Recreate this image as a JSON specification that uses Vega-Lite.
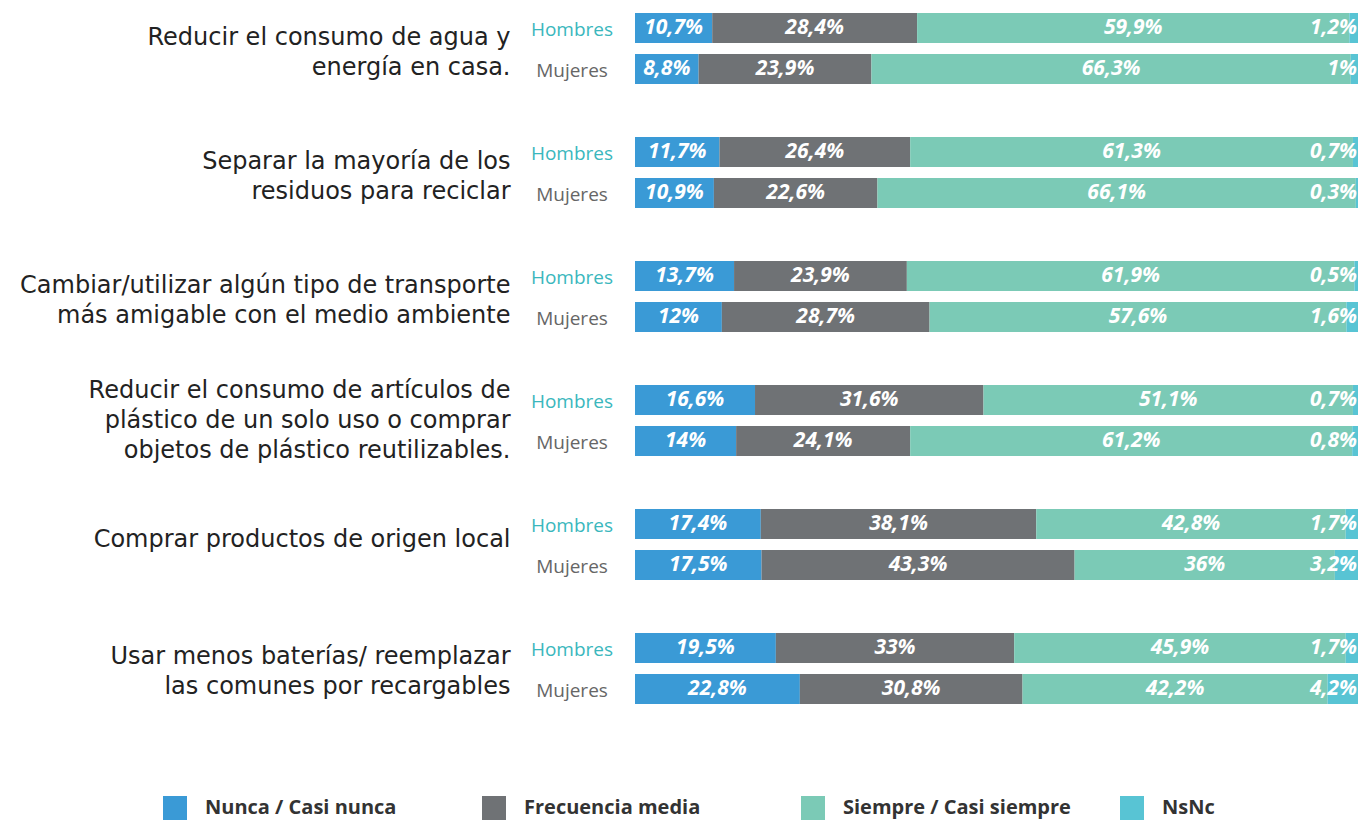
{
  "$schema": "https://vega.github.io/schema/vega-lite/v6.json",
  "autosize": "none",
  "padding": {"left": 635, "top": 13, "right": 2, "bottom": 120},
  "width": 723,
  "height": 691,
  "background": "white",
  "config": {
    "view": {"stroke": null},
    "locale": {"number": {"decimal": ",", "thousands": ".", "grouping": [3], "currency": ["", "%"]}}
  },
  "data": {"values": [
    {"cat": "Reducir el consumo de agua y\nenergía en casa.", "gender": "Hombres", "resp": "Nunca / Casi nunca", "value": 10.7},
    {"cat": "Reducir el consumo de agua y\nenergía en casa.", "gender": "Hombres", "resp": "Frecuencia media", "value": 28.4},
    {"cat": "Reducir el consumo de agua y\nenergía en casa.", "gender": "Hombres", "resp": "Siempre / Casi siempre", "value": 59.9},
    {"cat": "Reducir el consumo de agua y\nenergía en casa.", "gender": "Hombres", "resp": "NsNc", "value": 1.2},
    {"cat": "Reducir el consumo de agua y\nenergía en casa.", "gender": "Mujeres", "resp": "Nunca / Casi nunca", "value": 8.8},
    {"cat": "Reducir el consumo de agua y\nenergía en casa.", "gender": "Mujeres", "resp": "Frecuencia media", "value": 23.9},
    {"cat": "Reducir el consumo de agua y\nenergía en casa.", "gender": "Mujeres", "resp": "Siempre / Casi siempre", "value": 66.3},
    {"cat": "Reducir el consumo de agua y\nenergía en casa.", "gender": "Mujeres", "resp": "NsNc", "value": 1},
    {"cat": "Separar la mayoría de los\nresiduos para reciclar ", "gender": "Hombres", "resp": "Nunca / Casi nunca", "value": 11.7},
    {"cat": "Separar la mayoría de los\nresiduos para reciclar ", "gender": "Hombres", "resp": "Frecuencia media", "value": 26.4},
    {"cat": "Separar la mayoría de los\nresiduos para reciclar ", "gender": "Hombres", "resp": "Siempre / Casi siempre", "value": 61.3},
    {"cat": "Separar la mayoría de los\nresiduos para reciclar ", "gender": "Hombres", "resp": "NsNc", "value": 0.7},
    {"cat": "Separar la mayoría de los\nresiduos para reciclar ", "gender": "Mujeres", "resp": "Nunca / Casi nunca", "value": 10.9},
    {"cat": "Separar la mayoría de los\nresiduos para reciclar ", "gender": "Mujeres", "resp": "Frecuencia media", "value": 22.6},
    {"cat": "Separar la mayoría de los\nresiduos para reciclar ", "gender": "Mujeres", "resp": "Siempre / Casi siempre", "value": 66.1},
    {"cat": "Separar la mayoría de los\nresiduos para reciclar ", "gender": "Mujeres", "resp": "NsNc", "value": 0.3},
    {"cat": "Cambiar/utilizar algún tipo de transporte\nmás amigable con el medio ambiente", "gender": "Hombres", "resp": "Nunca / Casi nunca", "value": 13.7},
    {"cat": "Cambiar/utilizar algún tipo de transporte\nmás amigable con el medio ambiente", "gender": "Hombres", "resp": "Frecuencia media", "value": 23.9},
    {"cat": "Cambiar/utilizar algún tipo de transporte\nmás amigable con el medio ambiente", "gender": "Hombres", "resp": "Siempre / Casi siempre", "value": 61.9},
    {"cat": "Cambiar/utilizar algún tipo de transporte\nmás amigable con el medio ambiente", "gender": "Hombres", "resp": "NsNc", "value": 0.5},
    {"cat": "Cambiar/utilizar algún tipo de transporte\nmás amigable con el medio ambiente", "gender": "Mujeres", "resp": "Nunca / Casi nunca", "value": 12},
    {"cat": "Cambiar/utilizar algún tipo de transporte\nmás amigable con el medio ambiente", "gender": "Mujeres", "resp": "Frecuencia media", "value": 28.7},
    {"cat": "Cambiar/utilizar algún tipo de transporte\nmás amigable con el medio ambiente", "gender": "Mujeres", "resp": "Siempre / Casi siempre", "value": 57.6},
    {"cat": "Cambiar/utilizar algún tipo de transporte\nmás amigable con el medio ambiente", "gender": "Mujeres", "resp": "NsNc", "value": 1.6},
    {"cat": "Reducir el consumo de artículos de\nplástico de un solo uso o comprar\nobjetos de plástico reutilizables.", "gender": "Hombres", "resp": "Nunca / Casi nunca", "value": 16.6},
    {"cat": "Reducir el consumo de artículos de\nplástico de un solo uso o comprar\nobjetos de plástico reutilizables.", "gender": "Hombres", "resp": "Frecuencia media", "value": 31.6},
    {"cat": "Reducir el consumo de artículos de\nplástico de un solo uso o comprar\nobjetos de plástico reutilizables.", "gender": "Hombres", "resp": "Siempre / Casi siempre", "value": 51.1},
    {"cat": "Reducir el consumo de artículos de\nplástico de un solo uso o comprar\nobjetos de plástico reutilizables.", "gender": "Hombres", "resp": "NsNc", "value": 0.7},
    {"cat": "Reducir el consumo de artículos de\nplástico de un solo uso o comprar\nobjetos de plástico reutilizables.", "gender": "Mujeres", "resp": "Nunca / Casi nunca", "value": 14},
    {"cat": "Reducir el consumo de artículos de\nplástico de un solo uso o comprar\nobjetos de plástico reutilizables.", "gender": "Mujeres", "resp": "Frecuencia media", "value": 24.1},
    {"cat": "Reducir el consumo de artículos de\nplástico de un solo uso o comprar\nobjetos de plástico reutilizables.", "gender": "Mujeres", "resp": "Siempre / Casi siempre", "value": 61.2},
    {"cat": "Reducir el consumo de artículos de\nplástico de un solo uso o comprar\nobjetos de plástico reutilizables.", "gender": "Mujeres", "resp": "NsNc", "value": 0.8},
    {"cat": "Comprar productos de origen local", "gender": "Hombres", "resp": "Nunca / Casi nunca", "value": 17.4},
    {"cat": "Comprar productos de origen local", "gender": "Hombres", "resp": "Frecuencia media", "value": 38.1},
    {"cat": "Comprar productos de origen local", "gender": "Hombres", "resp": "Siempre / Casi siempre", "value": 42.8},
    {"cat": "Comprar productos de origen local", "gender": "Hombres", "resp": "NsNc", "value": 1.7},
    {"cat": "Comprar productos de origen local", "gender": "Mujeres", "resp": "Nunca / Casi nunca", "value": 17.5},
    {"cat": "Comprar productos de origen local", "gender": "Mujeres", "resp": "Frecuencia media", "value": 43.3},
    {"cat": "Comprar productos de origen local", "gender": "Mujeres", "resp": "Siempre / Casi siempre", "value": 36},
    {"cat": "Comprar productos de origen local", "gender": "Mujeres", "resp": "NsNc", "value": 3.2},
    {"cat": "Usar menos baterías/ reemplazar\nlas comunes por recargables", "gender": "Hombres", "resp": "Nunca / Casi nunca", "value": 19.5},
    {"cat": "Usar menos baterías/ reemplazar\nlas comunes por recargables", "gender": "Hombres", "resp": "Frecuencia media", "value": 33},
    {"cat": "Usar menos baterías/ reemplazar\nlas comunes por recargables", "gender": "Hombres", "resp": "Siempre / Casi siempre", "value": 45.9},
    {"cat": "Usar menos baterías/ reemplazar\nlas comunes por recargables", "gender": "Hombres", "resp": "NsNc", "value": 1.7},
    {"cat": "Usar menos baterías/ reemplazar\nlas comunes por recargables", "gender": "Mujeres", "resp": "Nunca / Casi nunca", "value": 22.8},
    {"cat": "Usar menos baterías/ reemplazar\nlas comunes por recargables", "gender": "Mujeres", "resp": "Frecuencia media", "value": 30.8},
    {"cat": "Usar menos baterías/ reemplazar\nlas comunes por recargables", "gender": "Mujeres", "resp": "Siempre / Casi siempre", "value": 42.2},
    {"cat": "Usar menos baterías/ reemplazar\nlas comunes por recargables", "gender": "Mujeres", "resp": "NsNc", "value": 4.2}
  ]},
  "transform": [
    {"calculate": "indexof(['Nunca / Casi nunca','Frecuencia media','Siempre / Casi siempre','NsNc'], datum.resp)", "as": "ord"}
  ],
  "encoding": {
    "y": {
      "field": "cat", "type": "nominal", "sort": null,
      "scale": {"paddingInner": 0.4274, "paddingOuter": 0},
      "axis": {
        "title": null, "domain": false, "ticks": false, "labelPadding": 125,
        "labelFontSize": 24, "labelFont": "DejaVu Sans", "labelColor": "#222222",
        "labelLineHeight": 30, "labelLimit": 0,
        "labelOffset": {
          "condition": [
            {"test": "length(split(datum.label, '\\n')) == 3", "value": -29},
            {"test": "length(split(datum.label, '\\n')) == 2", "value": -11}
          ],
          "value": -4
        },
        "labelExpr": "split(datum.label, '\\n')"
      }
    },
    "yOffset": {
      "field": "gender", "type": "nominal", "sort": ["Hombres", "Mujeres"],
      "scale": {"paddingInner": 0.268, "paddingOuter": 0}
    }
  },
  "layer": [
    {
      "mark": {"type": "bar", "strokeWidth": 0},
      "encoding": {
        "x": {"field": "value", "type": "quantitative", "stack": "normalize", "axis": null, "scale": {"domain": [0, 1], "nice": false}},
        "color": {
          "field": "resp", "type": "nominal",
          "scale": {"domain": ["Nunca / Casi nunca", "Frecuencia media", "Siempre / Casi siempre", "NsNc"], "range": ["#3a9ad6", "#6f7275", "#7bcab6", "#58c4d4"]},
          "legend": {
            "title": null, "orient": "none", "legendX": -472, "legendY": 783,
            "direction": "horizontal", "columns": 4, "gridAlign": "all", "columnPadding": 49,
            "symbolType": "square", "symbolSize": 576, "symbolStrokeWidth": 0, "symbolOpacity": 1,
            "labelFont": "Open Sans", "labelFontSize": 20, "labelFontWeight": "bold", "labelColor": "#333333",
            "labelOffset": 18, "labelLimit": 0, "padding": 0
          }
        },
        "order": {"field": "ord", "type": "quantitative"}
      }
    },
    {
      "mark": {"type": "text", "color": "white", "font": "Open Sans", "fontSize": 21, "fontWeight": "bold", "fontStyle": "italic", "baseline": "middle", "align": "center"},
      "encoding": {
        "x": {"field": "value", "type": "quantitative", "stack": "normalize", "bandPosition": 0.5},
        "detail": {"field": "resp"},
        "order": {"field": "ord", "type": "quantitative"},
        "text": {"condition": {"test": "datum.resp === 'NsNc'", "value": ""}, "field": "value", "type": "quantitative", "format": "$.1~f"}
      }
    },
    {
      "transform": [{"filter": "datum.resp === 'NsNc'"}],
      "mark": {"type": "text", "color": "white", "font": "Open Sans", "fontSize": 21, "fontWeight": "bold", "fontStyle": "italic", "baseline": "middle", "align": "right", "dx": -1},
      "encoding": {
        "x": {"datum": 1, "type": "quantitative"},
        "text": {"field": "value", "type": "quantitative", "format": "$.1~f"}
      }
    },
    {
      "transform": [{"filter": "datum.resp === 'NsNc'"}],
      "mark": {"type": "text", "font": "Open Sans", "fontSize": 19, "baseline": "middle", "align": "center", "dx": -63, "dy": 2},
      "encoding": {
        "x": {"datum": 0, "type": "quantitative"},
        "text": {"field": "gender"},
        "color": {"condition": {"test": "datum.gender === 'Hombres'", "value": "#3ab7bd"}, "value": "#666666"}
      }
    }
  ]
}
